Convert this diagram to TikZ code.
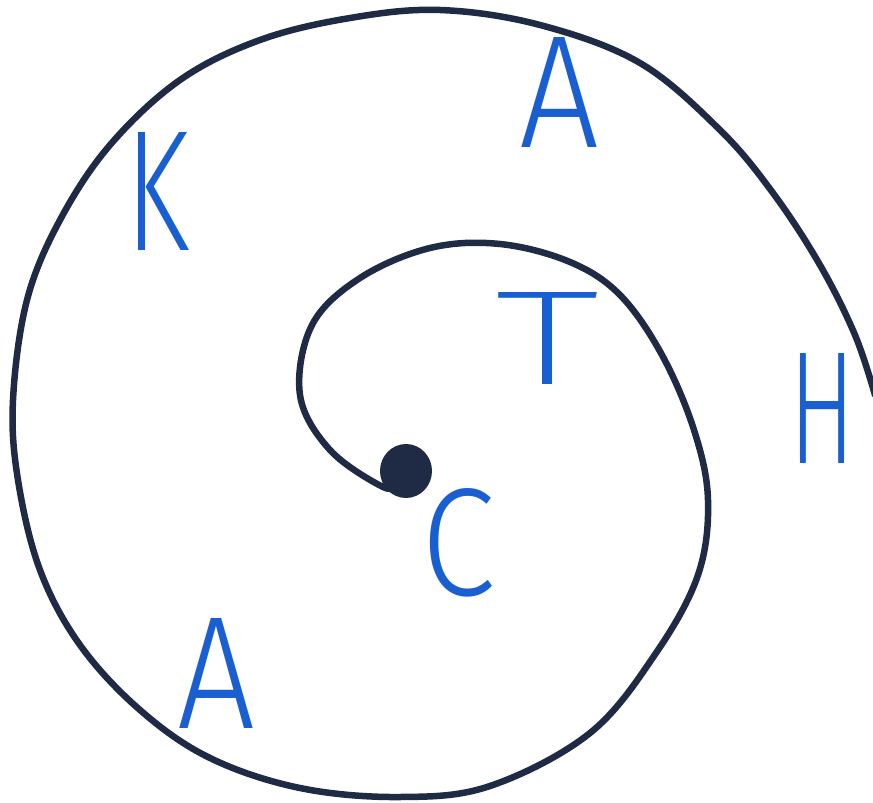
\documentclass[tikz,border=0pt]{standalone}
\usepackage{fontspec}
\usepackage{graphicx}
\newfontfamily\handfont{Fira Sans Light}
\newfontfamily\thinhandfont{Fira Sans ExtraLight}
\definecolor{ink}{HTML}{1F2A44}
\definecolor{letterblue}{HTML}{1A5FD2}
\newcommand{\letterfontsize}{\fontsize{160}{160}\selectfont}
\newcommand{\hand}[3]{\resizebox{#1pt}{#2pt}{#3}}   % width, height, letter
\tikzset{
  every picture/.style = {line join=round, line cap=round},
  curl/.style          = {line width=6.5pt, ink},
  letter/.style        = {text=letterblue, inner sep=0pt, font=\handfont\letterfontsize},
}

\begin{document}
\begin{tikzpicture}[x=1pt, y=-1pt]
  \useasboundingbox (0,0) rectangle (873,803);
  \coordinate (eye) at (406,471);

  % the spiral, from the dot outward
  \draw[curl] plot[smooth, tension=0.6] coordinates {
    (398,484) (383,487) (330,450) (300,395) (312,325) (360,278) (430,248)
    (500,244) (570,262) (620,295) (662,355) (694,430) (708,500) (698,575)
    (656,653) (590,733) (490,786) (400,797) (300,788) (210,758) (140,710)
    (80,645) (40,570) (18,480) (13,400) (27,300) (60,220) (110,145)
    (180,80) (260,40) (350,18) (440,10) (540,25) (640,63) (720,130)
    (773,193) (820,265) (855,335) (875,395)};
  \fill[ink] (eye) ellipse [x radius=26, y radius=27];

  % letters round the spiral
  \node[letter] (k)  at (157,191) {\hand{64}{118}{K}};
  \node[letter] (a1) at (559,92)  {\hand{80}{110}{A}};
  \node[letter, font=\thinhandfont\letterfontsize] (t) at (547,338) {\hand{104}{92}{T}};
  \node[letter] (h)  at (822,408) {\hand{66}{110}{H}};
  \node[letter] (c)  at (458,543) {\hand{74}{107}{C}};
  \node[letter] (a2) at (216,673) {\hand{78}{110}{A}};
\end{tikzpicture}
\end{document}
